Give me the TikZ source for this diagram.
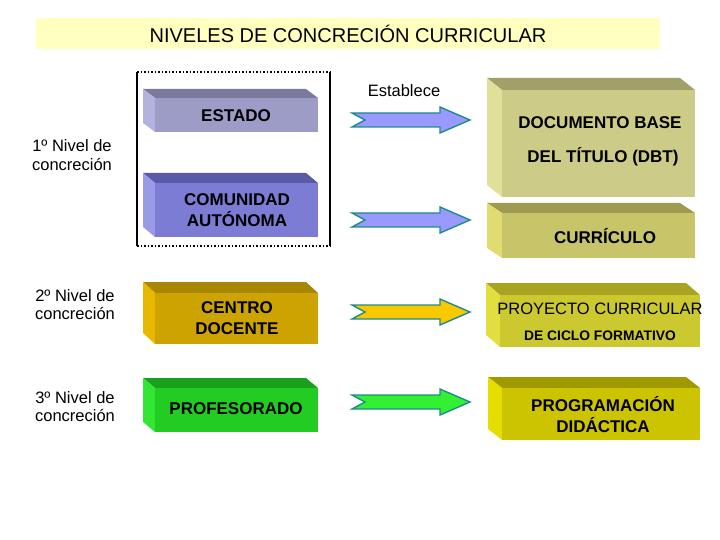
\documentclass[tikz,border=0pt]{standalone}
\usepackage{fontspec}
\setmainfont{Liberation Sans}
\usetikzlibrary{calc,fit}
\definecolor{titlebg}{HTML}{FFFFC0}
\definecolor{arrline}{HTML}{1E8C8C}
\definecolor{estF}{HTML}{9C9CC6}\definecolor{estT}{HTML}{7A7A9E}\definecolor{estL}{HTML}{B3B3E0}
\definecolor{comF}{HTML}{7C7CD4}\definecolor{comT}{HTML}{5A5AA6}\definecolor{comL}{HTML}{9A9AE6}
\definecolor{cenF}{HTML}{CCA300}\definecolor{cenT}{HTML}{A88600}\definecolor{cenL}{HTML}{E6B800}
\definecolor{proF}{HTML}{22CC22}\definecolor{proT}{HTML}{1AA01A}\definecolor{proL}{HTML}{33E633}
\definecolor{dbtF}{HTML}{CCCC88}\definecolor{dbtT}{HTML}{A0A068}\definecolor{dbtL}{HTML}{E0E09A}
\definecolor{curF}{HTML}{C8C46A}\definecolor{curT}{HTML}{9E9A50}\definecolor{curL}{HTML}{E0DC70}
\definecolor{pcF}{HTML}{CCC830}\definecolor{pcT}{HTML}{A8A422}\definecolor{pcL}{HTML}{E2DE40}
\definecolor{pdF}{HTML}{CCC400}\definecolor{pdT}{HTML}{A09A00}\definecolor{pdL}{HTML}{E6DD00}
\definecolor{arBlue}{HTML}{9999FF}\definecolor{arYel}{HTML}{F8C800}\definecolor{arGrn}{HTML}{33F033}
\newcommand\mycube[7]{%
  \coordinate (#1-a) at #2; \coordinate (#1-b) at #3;
  \fill[#6] (#1-a) -- ++#4 -- ($(#1-b|-#1-a)+#4$) -- (#1-b|-#1-a) -- cycle;
  \fill[#7] (#1-a) -- ++#4 -- ($(#1-a|-#1-b)+#4$) -- (#1-a|-#1-b) -- cycle;
  \node[fit=(#1-a)(#1-b), inner sep=0pt, fill=#5] (#1) {};
}
\newcommand\myarrow[3]{%
  \coordinate (#1-s) at (352,#2); \coordinate (#1-e) at (470,#2);
  \filldraw[arrst, fill=#3] ($(#1-s)+(0,-7)$) -- ($(#1-e)+(-30,-7)$) -- ($(#1-e)+(-30,-13)$)
    -- (#1-e) -- ($(#1-e)+(-30,13)$) -- ($(#1-e)+(-30,7)$) -- ($(#1-s)+(0,7)$)
    -- ($(#1-s)+(13,0)$) -- cycle;
}
\tikzset{
  arrst/.style={draw=arrline, line width=1.4pt, line join=miter},
  lab/.style={font=\fontsize{16.5}{18.5}\selectfont, align=center, inner sep=0pt},
  btxt/.style={font=\bfseries\fontsize{17}{21}\selectfont, align=center, inner sep=0pt},
}
\begin{document}
\begin{tikzpicture}[x=1pt,y=-1pt]
\useasboundingbox (0,0) rectangle (720,540);
% title
\node[fill=titlebg, minimum width=624pt, minimum height=31pt, inner sep=0pt,
      font=\fontsize{20}{22}\selectfont] (title) at (348,33.5) {NIVELES DE CONCRECIÓN CURRICULAR};
% frame
\coordinate (f1) at (137,72); \coordinate (f2) at (330,246);
\draw[line width=1.5pt, dotted] (f1) -- (f1-|f2);
\draw[line width=1.5pt, dotted] (f1|-f2) -- (f2);
\draw[line width=2pt] (f1) -- (f1|-f2);
\draw[line width=1.5pt] (f1-|f2) -- (f2);
% left boxes
\mycube{est}{(155,98)}{(318,132)}{(-12,-9)}{estF}{estT}{estL}
\mycube{com}{(155,183)}{(318,237)}{(-12,-10)}{comF}{comT}{comL}
\mycube{cen}{(155,293)}{(318,344)}{(-12,-11)}{cenF}{cenT}{cenL}
\mycube{pro}{(155,388)}{(318,432)}{(-12,-10)}{proF}{proT}{proL}
\node[btxt] (estt) at (236,116) {ESTADO};
\node[btxt] (comt) at (237,210.5) {COMUNIDAD\\AUTÓNOMA};
\node[btxt] (cent) at (237,318.5) {CENTRO\\DOCENTE};
\node[btxt] (prot) at (236,409) {PROFESORADO};
% right boxes
\mycube{dbt}{(502,90)}{(695,197)}{(-15,-12)}{dbtF}{dbtT}{dbtL}
\mycube{cur}{(502,213)}{(695,258)}{(-15,-10)}{curF}{curT}{curL}
\mycube{pc}{(500,295)}{(700,347)}{(-14,-12)}{pcF}{pcT}{pcL}
\mycube{pd}{(502,388)}{(700,440)}{(-14,-11)}{pdF}{pdT}{pdL}
\node[btxt] (dbt1) at (600,123) {DOCUMENTO BASE};
\node[btxt] (dbt2) at (603,157) {DEL TÍTULO (DBT)};
\node[btxt] (curt) at (605,236) {CURRÍCULO};
\node[lab] (pc1) at (600,309) {PROYECTO CURRICULAR};
\node[btxt, font=\bfseries\fontsize{13.8}{16}\selectfont] (pc2) at (600,336) {DE CICLO FORMATIVO};
\node[btxt] (pdt) at (603,415) {PROGRAMACIÓN\\DIDÁCTICA};
% arrows
\myarrow{a1}{120}{arBlue}
\myarrow{a2}{220}{arBlue}
\myarrow{a3}{312}{arYel}
\myarrow{a4}{402}{arGrn}
\node[lab] (est) at (404,91) {Establece};
% level labels
\node[lab] (n1) at (72,155) {1º Nivel de\\concreción};
\node[lab] (n2) at (75,304.5) {2º Nivel de\\concreción};
\node[lab] (n3) at (75,406.5) {3º Nivel de\\concreción};
\end{tikzpicture}
\end{document}
